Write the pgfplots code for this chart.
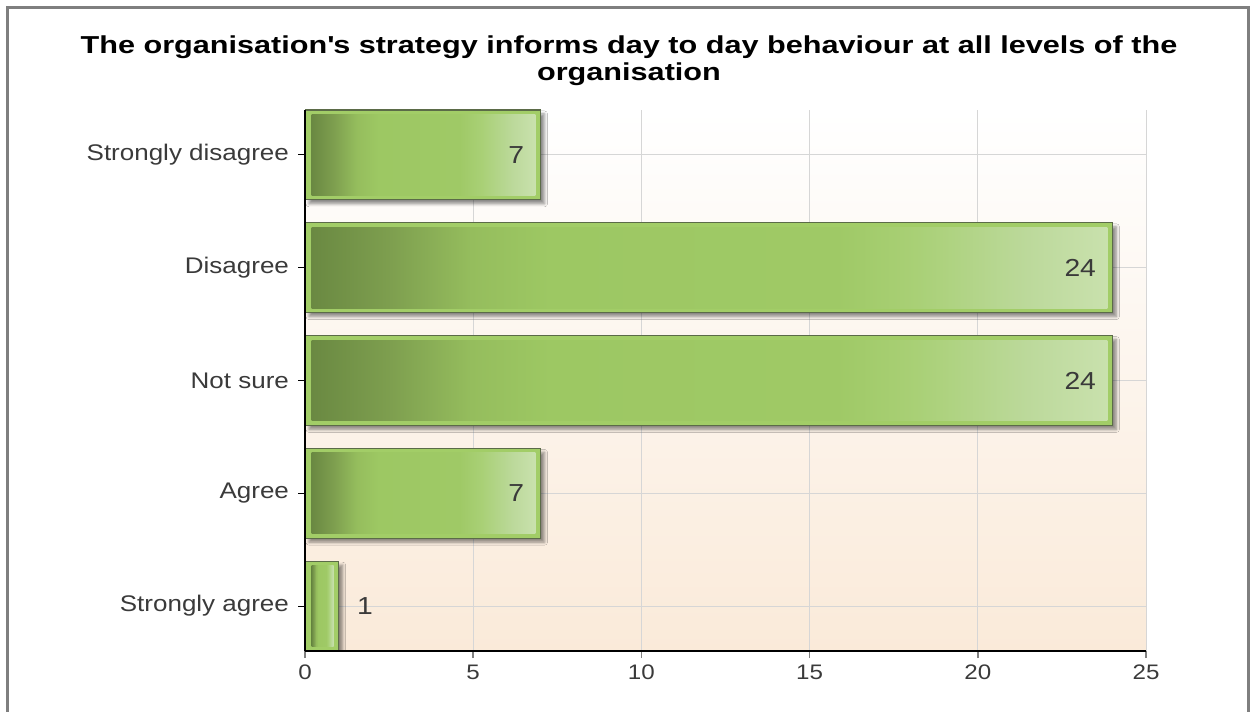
\documentclass[border=0pt]{standalone}
\usepackage{pgfplots}
\pgfplotsset{compat=1.18}
\usepackage{fontspec}
\setmainfont{Liberation Sans}[FakeStretch=1.15]
\newfontfamily\titlefont{Liberation Sans}[FakeStretch=1.25]
\usetikzlibrary{shadows.blur}
\definecolor{framegray}{HTML}{7F7F7F}
\definecolor{gridgray}{HTML}{D6D6D6}
\definecolor{peach}{HTML}{FAEAD9}
\definecolor{band}{HTML}{A2CD67}
\definecolor{outline}{HTML}{5B6B48}
\definecolor{txt}{HTML}{3A3A3A}
\definecolor{ga}{HTML}{6A8942}
\definecolor{gb}{HTML}{7E9F4F}
\definecolor{gc}{HTML}{95BD5D}
\definecolor{gd}{HTML}{9DC863}
\definecolor{ge}{HTML}{9FC966}
\definecolor{gf}{HTML}{A9D076}
\definecolor{gg}{HTML}{BCD99B}
\definecolor{gh}{HTML}{C9E1AD}
\pgfdeclarehorizontalshading{barshade}{100bp}{color(0bp)=(ga); color(25bp)=(ga); color(30bp)=(gb); color(35bp)=(gc); color(40bp)=(gd); color(58bp)=(ge); color(63bp)=(gf); color(70bp)=(gg); color(75bp)=(gh); color(100bp)=(gh)}
\pgfplotsset{
  common/.style={
    scale only axis, width=420.5pt, height=270.5pt,
    xmin=0, xmax=25, ymin=-0.398, ymax=4.398,
    at={(152.5pt,30pt)}, anchor=south west,
  },
  inner/.style={xbar, bar shift=0pt, bar width=0.717, draw=none, shading=barshade},
}
\begin{document}
\begin{tikzpicture}
\path[use as bounding box] (0,0) rectangle (628pt,355.5pt);
\draw[line width=1.5pt, color=framegray, line join=miter] (3.5pt,-2pt) -- (3.5pt,351.5pt) -- (624pt,351.5pt) -- (624pt,-2pt);
\node[align=center, font=\titlefont\bfseries\fontsize{12.25}{13.5}\selectfont, text=black] at (314.5pt,325pt)
  {The organisation\textquotesingle s strategy informs day to day behaviour at all levels of the\\organisation};
% axis 1: background, grid, outer bars
\begin{axis}[common,
  axis background/.style={top color=white, bottom color=peach},
  axis x line*=bottom, axis y line*=left,
  axis line style={black, line width=0.8pt},
  grid=major, grid style={gridgray, line width=0.5pt},
  xtick={0,5,10,15,20,25},
  ytick={0,1,2,3,4},
  yticklabels={Strongly agree, Agree, Not sure, Disagree, Strongly disagree},
  tick align=outside, major tick length=3.5pt,
  x tick style={gray, line width=0.8pt},
  y tick style={black, line width=0.6pt},
  /pgf/number format/assume math mode=true,
  yticklabel style={font=\fontsize{11.3}{12}\selectfont, text=txt, xshift=-1pt},
  xticklabel style={font=\fontsize{10.5}{12}\selectfont, text=txt, yshift=0pt},
]
\addplot[xbar, bar shift=0pt, bar width=0.796, fill=band, draw=outline, line width=0.6pt,
  blur shadow={shadow xshift=2pt, shadow yshift=-2pt, shadow blur radius=1.5pt, shadow blur steps=6, shadow opacity=45}]
  coordinates {(1,0) (7,1) (24,2) (24,3) (7,4)};
\end{axis}
% axis 2: inner shaded bars (x shifted by 0.2 so bars start inside the outer bars)
\begin{axis}[common, hide axis, xmin=-0.2, xmax=24.8]
\addplot[inner] coordinates {(0.65,0)};
\addplot[inner] coordinates {(6.65,1)};
\addplot[inner] coordinates {(23.65,2)};
\addplot[inner] coordinates {(23.65,3)};
\addplot[inner] coordinates {(6.65,4)};
\end{axis}
% axis 3: axis lines on top and value labels
\begin{axis}[common, axis x line*=bottom, axis y line*=left,
  axis line style={black, line width=0.8pt}, xtick=\empty, ytick=\empty]
\addplot[draw=none, mark=none, nodes near coords, point meta=explicit symbolic,
  nodes near coords style={anchor=east, inner sep=0pt, xshift=-8pt, font=\fontsize{12.3}{13}\selectfont, text=txt}]
  coordinates {(7,1)[7] (24,2)[24] (24,3)[24] (7,4)[7]};
\addplot[draw=none, mark=none, nodes near coords, point meta=explicit symbolic,
  nodes near coords style={anchor=west, inner sep=0pt, xshift=9pt, font=\fontsize{12.3}{13}\selectfont, text=txt}]
  coordinates {(1,0)[1]};
\end{axis}
\end{tikzpicture}
\end{document}
